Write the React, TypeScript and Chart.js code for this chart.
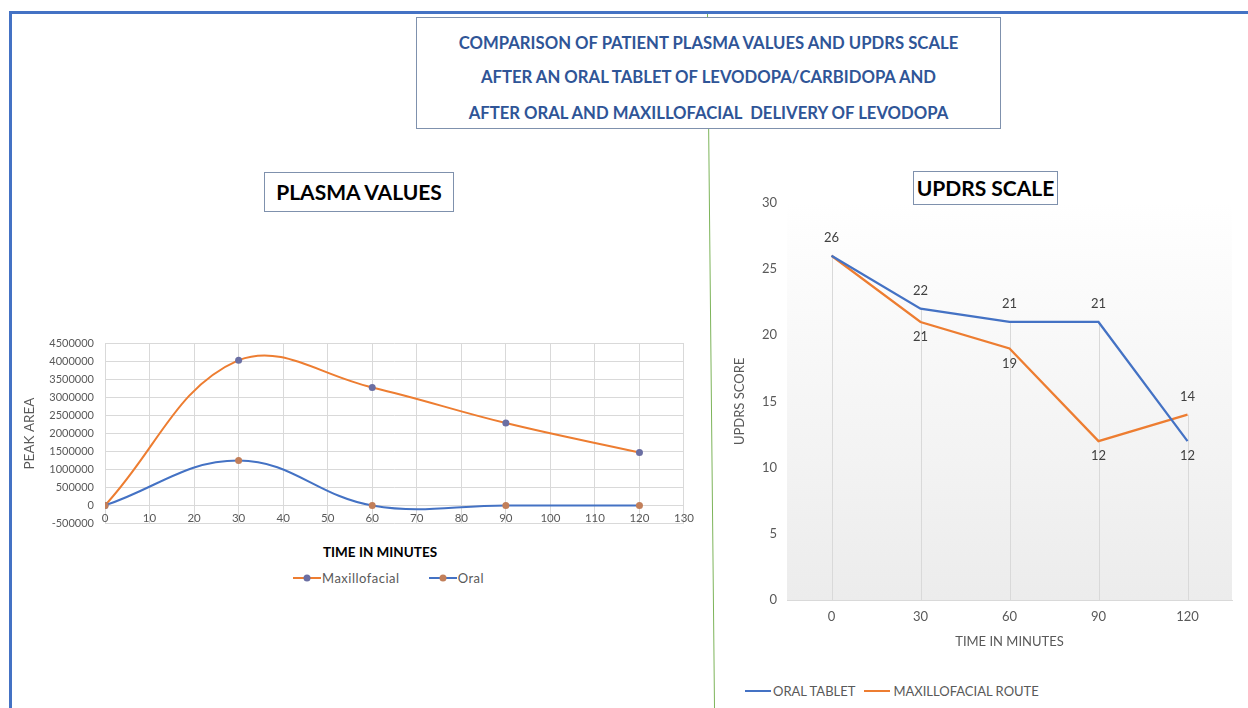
import React, { useEffect, useRef } from "react";
import { Chart, registerables } from "chart.js";

Chart.register(...registerables);

const FONT = 'Lato, "Open Sans", "DejaVu Sans", sans-serif';
Chart.defaults.font.family = FONT;

// ---------- Page title ----------
const titleLines = [
  "COMPARISON OF PATIENT PLASMA VALUES AND UPDRS SCALE",
  "AFTER AN ORAL TABLET OF LEVODOPA/CARBIDOPA AND",
  "AFTER ORAL AND MAXILLOFACIAL  DELIVERY OF LEVODOPA",
];

// ---------- Plasma values chart ----------
const plasmaTitle = "PLASMA VALUES";
const plasmaXTitle = "TIME IN MINUTES";
const plasmaYTitle = "PEAK AREA";
const plasmaSeriesNames = ["Maxillofacial", "Oral"];
const plasmaTimes = [0, 30, 60, 90, 120];
const maxillofacialPeakArea = [0, 4040000, 3280000, 2290000, 1470000];
const oralPeakArea = [0, 1250000, 0, 0, 0];
const plasmaYMin = -500000;
const plasmaYMax = 4500000;
const plasmaYStep = 500000;
const plasmaXMin = 0;
const plasmaXMax = 130;
const plasmaXStep = 10;

// ---------- UPDRS chart ----------
const updrsTitle = "UPDRS SCALE";
const updrsXTitle = "TIME IN MINUTES";
const updrsYTitle = "UPDRS SCORE";
const updrsSeriesNames = ["ORAL TABLET", "MAXILLOFACIAL ROUTE"];
const updrsTimes = ["0", "30", "60", "90", "120"];
const oralTabletScores = [26, 22, 21, 21, 12];
const maxillofacialRouteScores = [26, 21, 19, 12, 14];
const updrsYMin = 0;
const updrsYMax = 30;
const updrsYStep = 5;

const BLUE = "#4472C4";
const ORANGE = "#ED7D31";
const MAXI_MARKER = "#6B6FA3";
const ORAL_MARKER = "#C27F5A";
const AXIS_TEXT = "#595959";
const GRID = "#d9d9d9";

function PlasmaChart() {
  const ref = useRef<HTMLCanvasElement>(null);
  useEffect(() => {
    const chart = new Chart(ref.current as HTMLCanvasElement, {
      type: "scatter",
      data: {
        datasets: [
          {
            label: plasmaSeriesNames[0],
            data: plasmaTimes.map((t, i) => ({ x: t, y: maxillofacialPeakArea[i] })),
            showLine: true,
            borderColor: ORANGE,
            borderWidth: 2,
            tension: 0.4,
            pointRadius: 3.5,
            pointBackgroundColor: MAXI_MARKER,
            pointBorderColor: MAXI_MARKER,
            pointBorderWidth: 0,
            order: 1,
          },
          {
            label: plasmaSeriesNames[1],
            data: plasmaTimes.map((t, i) => ({ x: t, y: oralPeakArea[i] })),
            showLine: true,
            borderColor: BLUE,
            borderWidth: 2,
            tension: 0.4,
            pointRadius: 3.5,
            pointBackgroundColor: ORAL_MARKER,
            pointBorderColor: ORAL_MARKER,
            pointBorderWidth: 0,
            order: 0,
          },
        ],
      },
      options: {
        responsive: false,
        animation: false,
        devicePixelRatio: 1,
        layout: { padding: { top: 10, right: 16, bottom: 8, left: 0 } },
        plugins: { legend: { display: false }, tooltip: { enabled: false } },
        scales: {
          x: {
            type: "linear",
            position: { y: 0 } as any,
            min: plasmaXMin,
            max: plasmaXMax,
            ticks: { stepSize: plasmaXStep, color: AXIS_TEXT, font: { size: 11.5, family: FONT }, padding: 6 },
            grid: { color: GRID, drawTicks: false },
            border: { color: GRID },
          },
          y: {
            min: plasmaYMin,
            max: plasmaYMax,
            ticks: {
              stepSize: plasmaYStep,
              color: AXIS_TEXT,
              font: { size: 11, family: FONT },
              padding: 11,
              callback: (v: any) => String(v),
            },
            grid: { color: GRID, drawTicks: false },
            border: { display: false },
            title: {
              display: true,
              text: plasmaYTitle,
              color: AXIS_TEXT,
              font: { size: 13.5, family: FONT },
              padding: { top: 12, bottom: 0 },
            },
            afterFit: (s: any) => {
              s.width = 95;
            },
          },
        },
      },
    } as any);
    return () => chart.destroy();
  }, []);
  return (
    <canvas
      ref={ref}
      width={690}
      height={215}
      style={{ position: "absolute", left: 10, top: 326, width: 690, height: 215 }}
    />
  );
}

const updrsBackground = {
  id: "updrsBackground",
  beforeDraw(chart: any) {
    const { ctx, chartArea } = chart;
    const { left, top, right, bottom } = chartArea;
    ctx.save();
    const g = ctx.createLinearGradient(0, top, 0, bottom);
    g.addColorStop(0, "#ffffff");
    g.addColorStop(0.1, "#fdfdfd");
    g.addColorStop(1, "#ececec");
    ctx.fillStyle = g;
    ctx.fillRect(left, top, right - left, bottom - top);
    ctx.restore();
  },
};

const updrsDropLines = {
  id: "updrsDropLines",
  beforeDatasetsDraw(chart: any) {
    const { ctx, chartArea } = chart;
    const m0 = chart.getDatasetMeta(0);
    const m1 = chart.getDatasetMeta(1);
    ctx.save();
    ctx.strokeStyle = GRID;
    ctx.lineWidth = 1;
    for (let i = 0; i < m0.data.length; i++) {
      const x = Math.round(m0.data[i].x) + 0.5;
      const yTop = Math.min(m0.data[i].y, m1.data[i].y);
      ctx.beginPath();
      ctx.moveTo(x, yTop);
      ctx.lineTo(x, chartArea.bottom);
      ctx.stroke();
    }
    ctx.restore();
  },
};

const updrsLabels = {
  id: "updrsLabels",
  afterDatasetsDraw(chart: any) {
    const { ctx } = chart;
    const m0 = chart.getDatasetMeta(0);
    const m1 = chart.getDatasetMeta(1);
    const d0 = chart.data.datasets[0].data as number[];
    const d1 = chart.data.datasets[1].data as number[];
    ctx.save();
    ctx.font = `13px ${FONT}`;
    ctx.fillStyle = "#404040";
    ctx.textAlign = "center";
    ctx.textBaseline = "middle";
    for (let i = 0; i < d0.length; i++) {
      const a = d0[i];
      const b = d1[i];
      const pa = m0.data[i];
      const pb = m1.data[i];
      if (a === b) {
        ctx.fillText(String(a), pa.x, pa.y - 18);
        continue;
      }
      const hi = a > b ? { v: a, p: pa } : { v: b, p: pb };
      const lo = a > b ? { v: b, p: pb } : { v: a, p: pa };
      ctx.fillText(String(hi.v), hi.p.x, hi.p.y - 18);
      ctx.fillText(String(lo.v), lo.p.x, lo.p.y + 15);
    }
    ctx.restore();
  },
};

function UpdrsChart() {
  const ref = useRef<HTMLCanvasElement>(null);
  useEffect(() => {
    const chart = new Chart(ref.current as HTMLCanvasElement, {
      type: "line",
      data: {
        labels: updrsTimes,
        datasets: [
          {
            label: updrsSeriesNames[0],
            data: oralTabletScores,
            borderColor: BLUE,
            borderWidth: 2.25,
            pointRadius: 0,
            tension: 0,
          },
          {
            label: updrsSeriesNames[1],
            data: maxillofacialRouteScores,
            borderColor: ORANGE,
            borderWidth: 2.25,
            pointRadius: 0,
            tension: 0,
          },
        ],
      },
      options: {
        responsive: false,
        animation: false,
        devicePixelRatio: 1,
        layout: { padding: { top: 15, right: 13, bottom: 0, left: 0 } },
        plugins: { legend: { display: false }, tooltip: { enabled: false } },
        scales: {
          x: {
            offset: true,
            grid: { display: false, drawTicks: false },
            border: { color: GRID },
            ticks: { color: AXIS_TEXT, font: { size: 13, family: FONT }, padding: 9 },
            title: {
              display: true,
              text: updrsXTitle,
              color: AXIS_TEXT,
              font: { size: 13, family: FONT },
              padding: { top: 0, bottom: 10 },
            },
            afterFit: (s: any) => {
              s.height = 60;
            },
          },
          y: {
            min: updrsYMin,
            max: updrsYMax,
            ticks: { stepSize: updrsYStep, color: AXIS_TEXT, font: { size: 13, family: FONT }, padding: 10 },
            grid: { display: false, drawTicks: false },
            border: { display: false },
            title: {
              display: true,
              text: updrsYTitle,
              color: AXIS_TEXT,
              font: { size: 13, family: FONT },
              padding: { top: 12, bottom: 0 },
            },
            afterFit: (s: any) => {
              s.width = 67;
            },
          },
        },
      },
      plugins: [updrsBackground, updrsDropLines, updrsLabels],
    } as any);
    return () => chart.destroy();
  }, []);
  return (
    <canvas
      ref={ref}
      width={525}
      height={475}
      style={{ position: "absolute", left: 720, top: 185, width: 525, height: 475 }}
    />
  );
}

function LineMarker({ line, marker }: { line: string; marker?: string }) {
  return (
    <svg width={28} height={10} style={{ display: "block" }}>
      <line x1={0} y1={5} x2={28} y2={5} stroke={line} strokeWidth={2} />
      {marker ? <circle cx={14} cy={5} r={3.5} fill={marker} /> : null}
    </svg>
  );
}

export default function App() {
  const boxBorder = "1px solid #7F91AD";
  return (
    <div
      style={{
        position: "absolute",
        left: 0,
        top: 0,
        width: 1248,
        height: 708,
        overflow: "hidden",
        background: "#ffffff",
        fontFamily: FONT,
      }}
    >
      {/* page frame */}
      <div
        style={{
          position: "absolute",
          left: 9,
          top: 11,
          width: 1260,
          height: 720,
          borderTop: "3px solid #4472C4",
          borderLeft: "3px solid #4472C4",
        }}
      />
      {/* green divider */}
      <svg width={1248} height={708} style={{ position: "absolute", left: 0, top: 0 }}>
        <line x1={707.5} y1={14} x2={714.5} y2={708} stroke="#7DB45A" strokeWidth={1} />
      </svg>

      {/* main title box */}
      <div
        style={{
          position: "absolute",
          left: 416,
          top: 17,
          width: 585,
          height: 112,
          boxSizing: "border-box",
          border: boxBorder,
          background: "#ffffff",
        }}
      />
      {titleLines.map((t, i) => (
        <div
          key={i}
          style={{
            position: "absolute",
            left: 416,
            width: 585,
            top: [43, 77, 113][i] - 10,
            height: 20,
            lineHeight: "20px",
            textAlign: "center",
            fontWeight: 700,
            fontSize: 16.7,
            color: "#2F5597",
            whiteSpace: "pre",
          }}
        >
          {t}
        </div>
      ))}

      {/* PLASMA VALUES */}
      <div
        style={{
          position: "absolute",
          left: 264,
          top: 172,
          width: 190,
          height: 40,
          boxSizing: "border-box",
          border: boxBorder,
          textAlign: "center",
          lineHeight: "38px",
          fontWeight: 700,
          fontSize: 21,
          color: "#000000",
        }}
      >
        {plasmaTitle}
      </div>
      <PlasmaChart />
      <div
        style={{
          position: "absolute",
          left: 323,
          top: 544,
          height: 16,
          lineHeight: "16px",
          fontWeight: 700,
          fontSize: 13.5,
          color: "#000000",
          whiteSpace: "nowrap",
        }}
      >
        {plasmaXTitle}
      </div>
      <div
        style={{
          position: "absolute",
          left: 293,
          top: 570,
          height: 16,
          display: "flex",
          alignItems: "center",
          fontSize: 13,
          color: AXIS_TEXT,
          whiteSpace: "nowrap",
        }}
      >
        <LineMarker line={ORANGE} marker={MAXI_MARKER} />
        <span style={{ marginLeft: 1, letterSpacing: 0.5 }}>{plasmaSeriesNames[0]}</span>
        <span style={{ width: 29 }} />
        <LineMarker line={BLUE} marker={ORAL_MARKER} />
        <span style={{ marginLeft: 1, letterSpacing: 0.5 }}>{plasmaSeriesNames[1]}</span>
      </div>

      <UpdrsChart />
      {/* UPDRS SCALE */}
      <div
        style={{
          position: "absolute",
          left: 913,
          top: 171,
          width: 145,
          height: 34,
          boxSizing: "border-box",
          border: boxBorder,
          textAlign: "center",
          lineHeight: "32px",
          fontWeight: 700,
          fontSize: 21,
          color: "#000000",
          background: "#ffffff",
          zIndex: 2,
        }}
      >
        {updrsTitle}
      </div>
      <div
        style={{
          position: "absolute",
          left: 745,
          top: 683,
          height: 16,
          display: "flex",
          alignItems: "center",
          fontSize: 13,
          color: AXIS_TEXT,
          whiteSpace: "nowrap",
        }}
      >
        <svg width={26} height={10} style={{ display: "block" }}>
          <line x1={0} y1={5} x2={26} y2={5} stroke={BLUE} strokeWidth={2} />
        </svg>
        <span style={{ marginLeft: 2 }}>{updrsSeriesNames[0]}</span>
        <span style={{ width: 9 }} />
        <svg width={26} height={10} style={{ display: "block" }}>
          <line x1={0} y1={5} x2={26} y2={5} stroke={ORANGE} strokeWidth={2} />
        </svg>
        <span style={{ marginLeft: 3 }}>{updrsSeriesNames[1]}</span>
      </div>
    </div>
  );
}
